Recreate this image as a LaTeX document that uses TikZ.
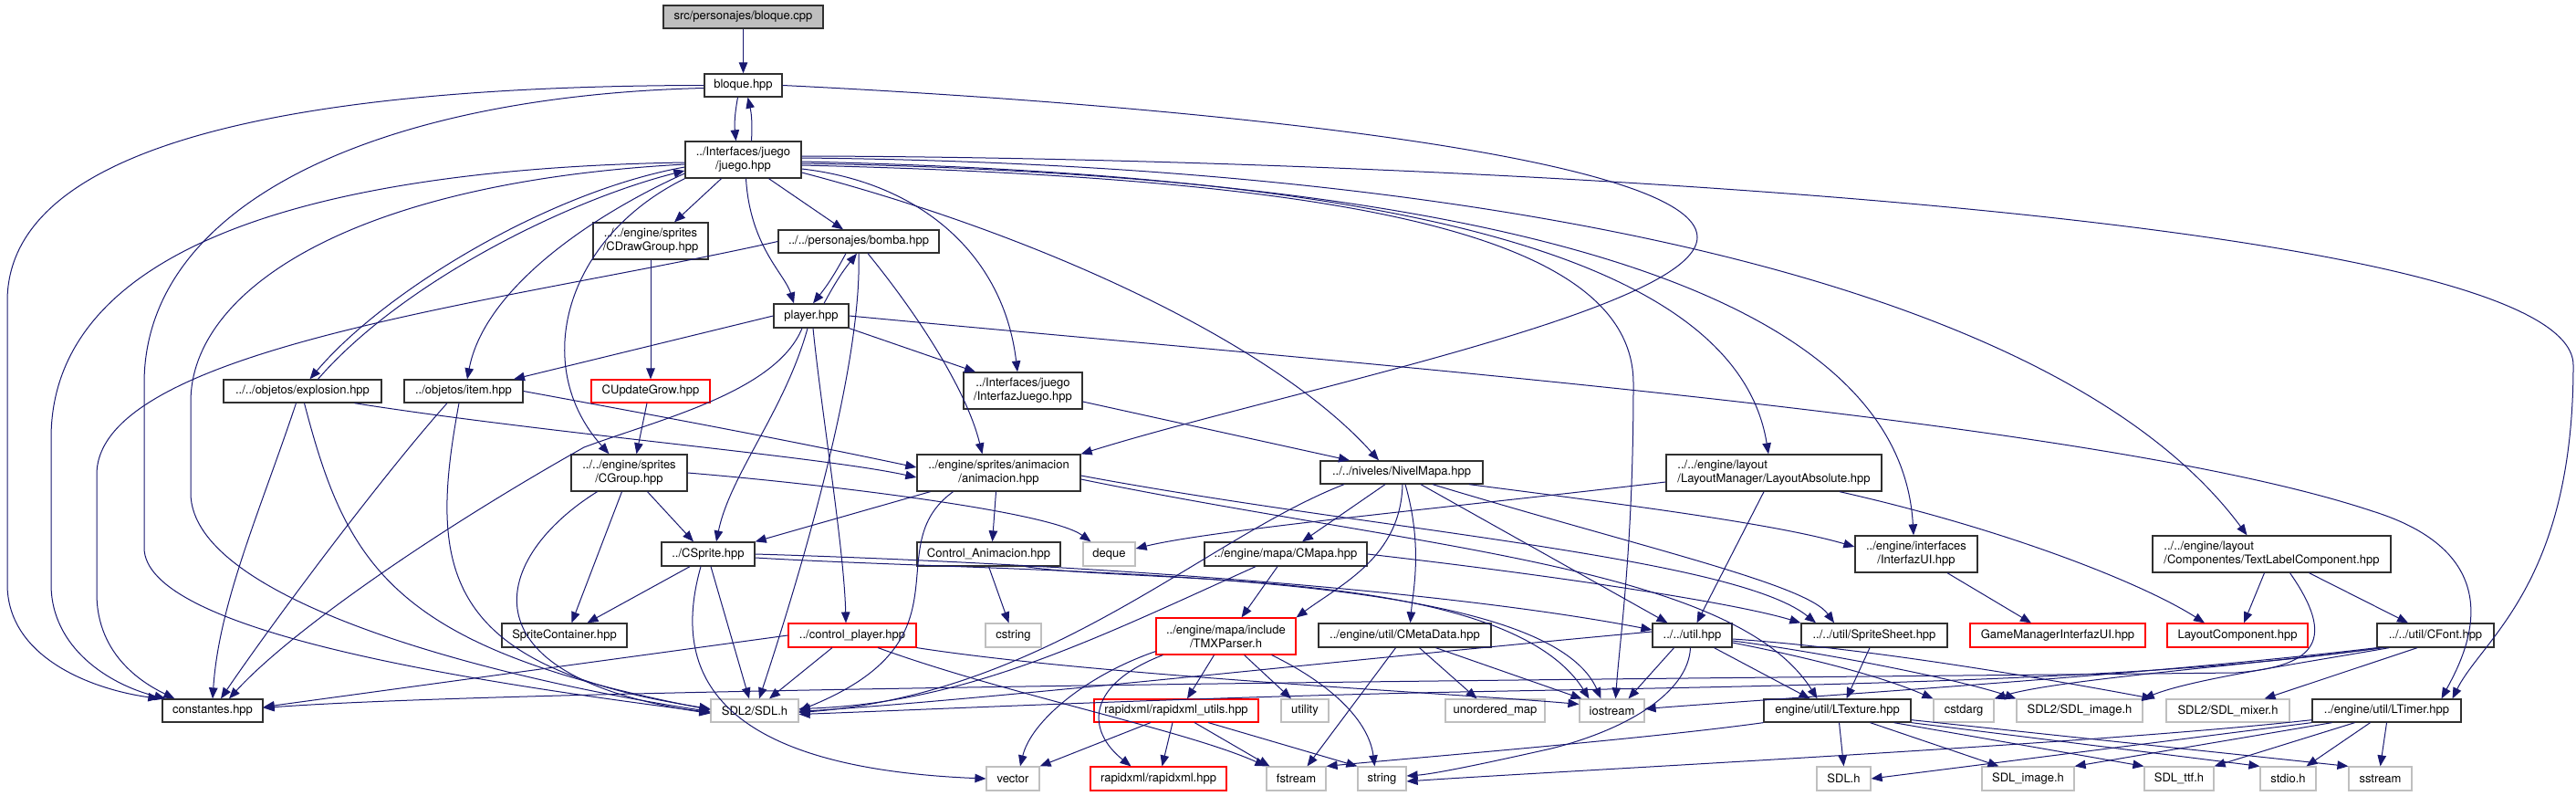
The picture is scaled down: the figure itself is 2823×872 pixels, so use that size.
\documentclass[tikz,border=0pt]{standalone}
\usepackage{fontspec}
\newfontfamily\nf{TeX Gyre Heros}
\usetikzlibrary{arrows.meta}
\definecolor{edgec}{HTML}{191970}
\definecolor{redb}{HTML}{FF0000}
\definecolor{grayb}{HTML}{BFBFBF}
\definecolor{boxb}{HTML}{303030}
\definecolor{rootf}{HTML}{BFBFBF}
\tikzset{
 nb/.style={draw=boxb, line width=1.3pt, fill=white, inner sep=0pt, font=\nf\fontsize{13}{15}\selectfont, align=center},
 ng/.style={nb, draw=grayb, line width=1.2pt},
 nr/.style={nb, draw=redb, line width=1.1pt},
 nroot/.style={nb, fill=rootf},
 e/.style={draw=edgec, line width=1.0pt, -{Triangle[length=12pt,width=9.5pt]}},
}
\begin{document}
\begin{tikzpicture}[x=1pt,y=-1pt]
\useasboundingbox (0,0) rectangle (2823,872);
% ---------- nodes ----------
\node[nroot,minimum width=175pt,minimum height=25pt] (cpp) at (814.5,18.5) {src/personajes/bloque.cpp};
\node[nb,minimum width=85pt,minimum height=25pt] (bloque) at (814.5,93.5) {bloque.hpp};
\node[nb,minimum width=127pt,minimum height=40pt] (juego) at (814.5,175) {../Interfaces/juego\\/juego.hpp};
\node[nb,minimum width=126pt,minimum height=40pt] (cdraw) at (713,264) {../../engine/sprites\\/CDrawGroup.hpp};
\node[nb,minimum width=176pt,minimum height=25pt] (bomba) at (941,264.5) {../../personajes/bomba.hpp};
\node[nb,minimum width=82pt,minimum height=26pt] (player) at (889,346) {player.hpp};
\node[nb,minimum width=173pt,minimum height=25pt] (explosion) at (331.5,428.5) {../../objetos/explosion.hpp};
\node[nb,minimum width=130pt,minimum height=25pt] (item) at (508,428.5) {../objetos/item.hpp};
\node[nr,minimum width=130pt,minimum height=25pt] (cupdate) at (713,428.5) {CUpdateGrow.hpp};
\node[nb,minimum width=130pt,minimum height=40pt] (interfazjuego) at (1121,428) {../Interfaces/juego\\/InterfazJuego.hpp};
\node[nb,minimum width=127pt,minimum height=40pt] (cgroup) at (689.5,518) {../../engine/sprites\\/CGroup.hpp};
\node[nb,minimum width=179pt,minimum height=40pt] (animacion) at (1094.5,518) {../engine/sprites/animacion\\/animacion.hpp};
\node[nb,minimum width=178pt,minimum height=25pt] (nivelmapa) at (1536,517.5) {../../niveles/NivelMapa.hpp};
\node[nb,minimum width=236pt,minimum height=40pt,align=left] (layoutabs) at (1944,518) {../../engine/layout\\/LayoutManager/LayoutAbsolute.hpp};
\node[nb,minimum width=102pt,minimum height=26pt] (csprite) at (776,607) {../CSprite.hpp};
\node[nb,minimum width=157pt,minimum height=26pt] (controlanim) at (1083.5,607) {Control\_Animacion.hpp};
\node[ng,minimum width=57pt,minimum height=26pt] (deque) at (1215.5,607) {deque};
\node[nb,minimum width=178pt,minimum height=26pt] (cmapa) at (1409,607) {../engine/mapa/CMapa.hpp};
\node[nb,minimum width=134pt,minimum height=40pt] (interfazui) at (2100,607) {../engine/interfaces\\/InterfazUI.hpp};
\node[nb,minimum width=261pt,minimum height=40pt,align=left] (textlabel) at (2489.5,607) {../../engine/layout\\/Componentes/TextLabelComponent.hpp};
\node[nb,minimum width=137pt,minimum height=26pt] (spritecontainer) at (618.5,696) {SpriteContainer.hpp};
\node[nr,minimum width=140pt,minimum height=26pt] (controlplayer) at (934,696) {../control\_player.hpp};
\node[ng,minimum width=61pt,minimum height=26pt] (cstring) at (1110.5,696) {cstring};
\node[nr,minimum width=153pt,minimum height=40pt] (tmx) at (1343.5,697) {../engine/mapa/include\\/TMXParser.h};
\node[nb,minimum width=189pt,minimum height=26pt] (cmeta) at (1539.5,696) {../engine/util/CMetaData.hpp};
\node[nb,minimum width=87pt,minimum height=26pt] (util) at (1854.5,696) {../../util.hpp};
\node[nb,minimum width=160pt,minimum height=26pt] (spritesheet) at (2054,696) {../../util/SpriteSheet.hpp};
\node[nr,minimum width=192pt,minimum height=26pt] (gamemanager) at (2255,696) {GameManagerInterfazUI.hpp};
\node[nr,minimum width=154pt,minimum height=26pt] (layoutcomp) at (2452,696) {LayoutComponent.hpp};
\node[nb,minimum width=128pt,minimum height=26pt] (cfont) at (2669,696) {../../util/CFont.hpp};
\node[nb,minimum width=110pt,minimum height=25pt] (constantes) at (233,778.5) {constantes.hpp};
\node[ng,minimum width=96pt,minimum height=25pt] (sdl) at (827,778.5) {SDL2/SDL.h};
\node[nr,minimum width=180pt,minimum height=25pt] (rxutils) at (1289,778.5) {rapidxml/rapidxml\_utils.hpp};
\node[ng,minimum width=52pt,minimum height=25pt] (utility) at (1430,778.5) {utility};
\node[ng,minimum width=109pt,minimum height=25pt] (unordered) at (1638.5,778.5) {unordered\_map};
\node[ng,minimum width=71pt,minimum height=25pt] (iostream) at (1766.5,778.5) {iostream};
\node[nb,minimum width=161pt,minimum height=25pt] (ltexture) at (2013.5,778.5) {engine/util/LTexture.hpp};
\node[ng,minimum width=66pt,minimum height=25pt] (cstdarg) at (2152,778.5) {cstdarg};
\node[ng,minimum width=138pt,minimum height=25pt] (sdlimage2) at (2279,778.5) {SDL2/SDL\_image.h};
\node[ng,minimum width=135pt,minimum height=25pt] (sdlmixer) at (2441.5,778.5) {SDL2/SDL\_mixer.h};
\node[nb,minimum width=163pt,minimum height=25pt] (ltimer) at (2615.5,778.5) {../engine/util/LTimer.hpp};
\node[ng,minimum width=58pt,minimum height=26pt] (vector) at (1110,853) {vector};
\node[nr,minimum width=149pt,minimum height=26pt] (rapidxml) at (1269.5,853) {rapidxml/rapidxml.hpp};
\node[ng,minimum width=65pt,minimum height=26pt] (fstream) at (1420.5,853) {fstream};
\node[ng,minimum width=53pt,minimum height=26pt] (string) at (1514.5,853) {string};
\node[ng,minimum width=59pt,minimum height=26pt] (sdlh) at (2020.5,853) {SDL.h};
\node[ng,minimum width=101pt,minimum height=26pt] (sdlimage) at (2222.5,853) {SDL\_image.h};
\node[ng,minimum width=76pt,minimum height=26pt] (sdlttf) at (2388,853) {SDL\_ttf.h};
\node[ng,minimum width=61pt,minimum height=26pt] (stdio) at (2507.5,853) {stdio.h};
\node[ng,minimum width=69pt,minimum height=26pt] (sstream) at (2608.5,853) {sstream};
% ---------- edges ----------
\draw[e] (cpp.south) -- (bloque.north);
\draw[e] ([xshift=-6pt]bloque.south) to[bend right=8] ([xshift=-8pt]juego.north);
\draw[e] ([xshift=9pt]juego.north) to[bend right=8] ([xshift=5pt]bloque.south);
\draw[e] (bloque.west) .. controls (350,94) and (8,150) .. (8,330) -- (8,640) .. controls (8,720) and (100,755) .. ([xshift=-3pt]constantes.north west);
\draw[e] ([yshift=-3pt]bloque.west) .. controls (420,105) and (158,220) .. (158,420) -- (158,600) .. controls (158,690) and (500,745) .. ([yshift=-2pt]sdl.west);
\draw[e] (bloque.east) .. controls (1300,115) and (1860,170) .. (1860,260) .. controls (1860,340) and (1400,430) .. (animacion.north east);
% juego
\draw[e] ([yshift=-3pt]juego.west) .. controls (320,185) and (56,280) .. (56,480) -- (56,640) .. controls (56,710) and (120,750) .. ([xshift=4pt]constantes.north west);
\draw[e] ([yshift=-5pt]juego.west) .. controls (380,200) and (209,320) .. (209,440) -- (209,540) .. controls (209,660) and (550,745) .. ([yshift=-1pt]sdl.west);
\draw[e] ([yshift=-8pt]juego.west) .. controls (600,210) and (420,320) .. ([xshift=8pt]explosion.north);
\draw[e] ([xshift=17pt]explosion.north) .. controls (440,310) and (620,220) .. ([yshift=-12pt]juego.west);
\draw[e] ([yshift=-15pt]juego.west) .. controls (640,240) and (530,320) .. ([xshift=4pt]item.north);
\draw[e] (juego.south west) .. controls (620,260) and (580,400) .. ([xshift=-22pt]cgroup.north);
\draw[e] ([xshift=-24pt]juego.south) -- ([xshift=26pt]cdraw.north);
\draw[e] ([xshift=3pt]juego.south) .. controls (822,270) and (860,300) .. ([xshift=-19pt]player.north);
\draw[e] ([xshift=28pt]juego.south) -- ([xshift=-17pt]bomba.north);
\draw[e] ([yshift=-10pt]juego.east) .. controls (1010,200) and (1100,280) .. ([xshift=-6pt]interfazjuego.north);
\draw[e] ([yshift=-14pt]juego.east) .. controls (1150,260) and (1400,380) .. ([xshift=-25pt]nivelmapa.north);
\draw[e] ([yshift=-6pt]juego.east) .. controls (1450,195) and (1790,250) .. (1790,420) .. controls (1790,600) and (1775,700) .. ([xshift=4pt]iostream.north);
\draw[e] ([yshift=-2pt]juego.east) .. controls (1450,190) and (1900,260) .. ([xshift=-6pt]layoutabs.north);
\draw[e] ([yshift=-4pt]juego.east) .. controls (1500,190) and (2080,280) .. ([xshift=-3pt]interfazui.north);
\draw[e] ([yshift=2pt]juego.east) .. controls (1600,180) and (2250,300) .. ([xshift=-27pt]textlabel.north);
\draw[e] ([yshift=4pt]juego.east) .. controls (1500,172) and (2820,230) .. (2820,400) .. controls (2820,640) and (2720,700) .. ([xshift=72pt]ltimer.north);
% player / bomba
\draw[e] ([xshift=14pt]player.north) to[bend left=5] ([xshift=-2pt]bomba.south);
\draw[e] ([xshift=-14pt]bomba.south) to[bend left=5] ([xshift=2pt]player.north);
\draw[e] (player.west) -- ([xshift=55pt]item.north);
\draw[e] ([xshift=-10pt]player.south) .. controls (850,430) and (720,460) .. (640,490) .. controls (480,580) and (320,690) .. ([xshift=18pt]constantes.north);
\draw[e] ([xshift=-4pt]player.south) .. controls (860,450) and (800,520) .. ([xshift=9pt]csprite.north);
\draw[e] ([xshift=2pt]player.south) .. controls (900,450) and (925,600) .. ([xshift=-7pt]controlplayer.north);
\draw[e] (player.south east) -- ([xshift=-52pt]interfazjuego.north);
\draw[e] (player.east) .. controls (1500,400) and (2300,460) .. (2600,560) .. controls (2760,610) and (2700,720) .. ([xshift=60pt]ltimer.north);
\draw[e] ([xshift=10pt]bomba.south) .. controls (1010,350) and (1060,430) .. ([xshift=-18pt]animacion.north);
\draw[e] (bomba.south) .. controls (945,400) and (880,620) .. ([xshift=5pt]sdl.north);
\draw[e] (bomba.west) .. controls (560,330) and (106,380) .. (106,520) -- (106,650) .. controls (106,720) and (160,750) .. ([xshift=14pt]constantes.north west);
% cdraw / cupdate
\draw[e] (cdraw.south) -- (cupdate.north);
\draw[e] ([xshift=-4pt]cupdate.south) -- ([xshift=8pt]cgroup.north);
% explosion / item
\draw[e] ([xshift=-7pt]explosion.south) .. controls (285,560) and (240,660) .. (constantes.north);
\draw[e] ([xshift=2pt]explosion.south) .. controls (380,620) and (430,710) .. ([yshift=1pt]sdl.west);
\draw[e] ([xshift=57pt]explosion.south) .. controls (600,475) and (900,500) .. ([yshift=-5pt]animacion.west);
\draw[e] ([xshift=-18pt]item.south) .. controls (420,520) and (300,680) .. ([xshift=9pt]constantes.north);
\draw[e] ([xshift=-5pt]item.south) .. controls (470,620) and (480,730) .. ([yshift=2pt]sdl.west);
\draw[e] (item.east) .. controls (800,470) and (900,490) .. ([yshift=6pt]animacion.west);
% cgroup
\draw[e] ([xshift=20pt]cgroup.south) -- ([xshift=-16pt]csprite.north);
\draw[e] ([xshift=-8pt]cgroup.south) -- ([xshift=8pt]spritecontainer.north);
\draw[e] ([xshift=-35pt]cgroup.south) .. controls (540,610) and (500,740) .. ([yshift=-3pt]sdl.west);
\draw[e] (cgroup.east) .. controls (900,530) and (1150,560) .. ([xshift=-20pt]deque.north);
% animacion
\draw[e] ([xshift=-75pt]animacion.south) -- (csprite.north east);
\draw[e] ([xshift=-3pt]animacion.south) -- ([xshift=4pt]controlanim.north);
\draw[e] ([xshift=-50pt]animacion.south) .. controls (960,600) and (1070,700) .. (sdl.east);
\draw[e] ([yshift=-3pt]animacion.east) .. controls (1500,580) and (1900,610) .. ([xshift=-64pt]spritesheet.north);
\draw[e] ([yshift=-7pt]animacion.east) .. controls (1550,600) and (1900,620) .. ([xshift=-22pt]ltexture.north);
% csprite
\draw[e] ([xshift=-20pt]csprite.south) -- ([xshift=25pt]spritecontainer.north);
\draw[e] ([xshift=3pt]csprite.south) -- ([xshift=-6pt]sdl.north);
\draw[e] ([xshift=-8pt]csprite.south) .. controls (740,720) and (760,840) .. (vector.west);
\draw[e] (csprite.east) .. controls (1100,615) and (1550,640) .. ([yshift=6pt]util.west);
\draw[e] ([yshift=-4pt]csprite.east) .. controls (1150,630) and (1690,620) .. ([xshift=-12pt]iostream.north);
% control_animacion
\draw[e] (controlanim.south) -- ([xshift=-5pt]cstring.north);
\draw[e] ([xshift=40pt]controlanim.south) .. controls (1250,640) and (1650,620) .. ([xshift=-25pt]iostream.north);
% cmapa
\draw[e] ([xshift=-9pt]cmapa.south) -- ([xshift=17pt]tmx.north);
\draw[e] ([xshift=-33pt]cmapa.south) .. controls (1200,700) and (1060,770) .. ([yshift=2pt]sdl.east);
\draw[e] (cmapa.east) .. controls (1700,630) and (1900,660) .. (spritesheet.north west);
% nivelmapa
\draw[e] ([xshift=-63pt]nivelmapa.south) .. controls (1320,590) and (1150,760) .. ([yshift=-2pt]sdl.east);
\draw[e] ([xshift=-18pt]nivelmapa.south) -- ([xshift=18pt]cmapa.north);
\draw[e] ([xshift=1pt]nivelmapa.south) .. controls (1535,610) and (1470,640) .. (tmx.north east);
\draw[e] ([xshift=4pt]nivelmapa.south) .. controls (1560,600) and (1548,650) .. ([xshift=6pt]cmeta.north);
\draw[e] ([xshift=21pt]nivelmapa.south) -- ([xshift=-27pt]util.north);
\draw[e] ([xshift=34pt]nivelmapa.south) .. controls (1800,600) and (1980,640) .. ([xshift=-44pt]spritesheet.north);
\draw[e] ([xshift=74pt]nivelmapa.south) .. controls (1800,555) and (1950,575) .. ([yshift=8pt]interfazui.west);
\draw[e] ([yshift=-12pt]interfazjuego.east) -- ([xshift=-57pt]nivelmapa.north);
% layout
\draw[e] ([yshift=-10pt]layoutabs.west) .. controls (1600,555) and (1330,580) .. ([yshift=6pt]deque.east);
\draw[e] ([xshift=-11pt]layoutabs.south) -- ([xshift=5pt]util.north);
\draw[e] ([xshift=72pt]layoutabs.south) .. controls (2200,580) and (2350,640) .. ([xshift=-36pt]layoutcomp.north);
\draw[e] ([xshift=34pt]interfazui.south) -- ([xshift=-29pt]gamemanager.north);
\draw[e] ([xshift=-8pt]textlabel.south) -- ([xshift=7pt]layoutcomp.north);
\draw[e] ([xshift=41pt]textlabel.south) -- ([xshift=-30pt]cfont.north);
\draw[e] ([xshift=20pt]textlabel.south) .. controls (2560,700) and (2540,730) .. (2450,737) .. controls (2000,742) and (600,752) .. ([yshift=3pt]constantes.east);
% cfont
\draw[e] (cfont.south west) .. controls (2350,740) and (1950,765) .. ([yshift=2pt]iostream.east);
\draw[e] ([xshift=4pt]cfont.south west) .. controls (2350,748) and (1900,752) .. (1600,758) .. controls (1300,764) and (1000,778) .. ([yshift=-4pt]sdl.east);
\draw[e] ([xshift=8pt]cfont.south west) .. controls (2450,730) and (2250,745) .. (cstdarg.north east);
\draw[e] ([xshift=14pt]cfont.south west) .. controls (2500,730) and (2400,745) .. (sdlimage2.north east);
\draw[e] ([xshift=-20pt]cfont.south) -- ([xshift=40pt]sdlmixer.north);
% util
\draw[e] ([yshift=4pt]util.west) .. controls (1500,720) and (1100,765) .. ([yshift=-1pt]sdl.east);
\draw[e] ([xshift=-20pt]util.south) -- ([xshift=18pt]iostream.north);
\draw[e] ([xshift=24pt]util.south) -- ([xshift=-30pt]ltexture.north);
\draw[e] ([xshift=-2pt]util.south) .. controls (1850,760) and (1780,800) .. (1700,820) .. controls (1620,838) and (1570,848) .. ([yshift=3pt]string.east);
\draw[e] ([yshift=-8pt]util.east) .. controls (1980,720) and (2060,740) .. (cstdarg.north west);
\draw[e] ([yshift=-6pt]util.east) .. controls (2000,715) and (2150,745) .. (sdlimage2.north west);
\draw[e] ([yshift=-4pt]util.east) .. controls (2050,710) and (2250,745) .. ([xshift=-14pt]sdlmixer.north west);
\draw[e] ([xshift=-5pt]spritesheet.south) -- ([xshift=10pt]ltexture.north);
% ltexture
\draw[e] ([xshift=2pt]ltexture.south) -- (sdlh.north);
\draw[e] ([xshift=36pt]ltexture.south) -- ([xshift=-32pt]sdlimage.north);
\draw[e] ([xshift=62pt]ltexture.south) -- (sdlttf.north west);
\draw[e] (ltexture.south east) -- (stdio.north west);
\draw[e] ([yshift=3pt]ltexture.south east) -- (sstream.north west);
\draw[e] (ltexture.south west) .. controls (1800,810) and (1550,830) .. (fstream.north east);
% ltimer
\draw[e] (ltimer.south west) -- (sdlh.east);
\draw[e] ([xshift=-60pt]ltimer.south) -- (sdlimage.north east);
\draw[e] ([xshift=-35pt]ltimer.south) -- (sdlttf.north east);
\draw[e] ([xshift=-18pt]ltimer.south) -- ([xshift=20pt]stdio.north);
\draw[e] (ltimer.south) -- (sstream.north);
\draw[e] ([yshift=3pt]ltimer.south west) .. controls (2300,815) and (1700,845) .. ([yshift=-3pt]string.east);
% control_player
\draw[e] (controlplayer.west) -- ([yshift=4pt]constantes.east);
\draw[e] ([xshift=-22pt]controlplayer.south) -- ([xshift=16pt]sdl.north);
\draw[e] (controlplayer.south east) .. controls (1200,740) and (1600,760) .. ([yshift=-6pt]iostream.north west);
\draw[e] ([xshift=28pt]controlplayer.south) .. controls (1100,760) and (1300,800) .. (fstream.north west);
% tmx
\draw[e] ([xshift=-13pt]tmx.south) -- ([xshift=12pt]rxutils.north);
\draw[e] ([xshift=20pt]tmx.south) -- ([xshift=-15pt]utility.north);
\draw[e] ([xshift=50pt]tmx.south) .. controls (1460,750) and (1500,790) .. ([xshift=-8pt]string.north);
\draw[e] ([yshift=4pt]tmx.south west) .. controls (1190,740) and (1130,790) .. ([xshift=8pt]vector.north);
\draw[e] ([xshift=8pt]tmx.south west) .. controls (1190,750) and (1190,800) .. ([xshift=-30pt]rapidxml.north);
% rxutils
\draw[e] ([xshift=-28pt]rxutils.south) -- (vector.north east);
\draw[e] ([xshift=-4pt]rxutils.south) -- ([xshift=4pt]rapidxml.north);
\draw[e] ([xshift=20pt]rxutils.south) -- ([xshift=4pt]fstream.north west);
\draw[e] ([xshift=35pt]rxutils.south) -- (string.north west);
% cmeta
\draw[e] ([xshift=-10pt]cmeta.south) -- ([xshift=12pt]fstream.north);
\draw[e] ([xshift=16pt]cmeta.south) -- ([xshift=-20pt]unordered.north);
\draw[e] ([xshift=34pt]cmeta.south) -- ([xshift=3pt]iostream.north west);
\end{tikzpicture}
\end{document}
